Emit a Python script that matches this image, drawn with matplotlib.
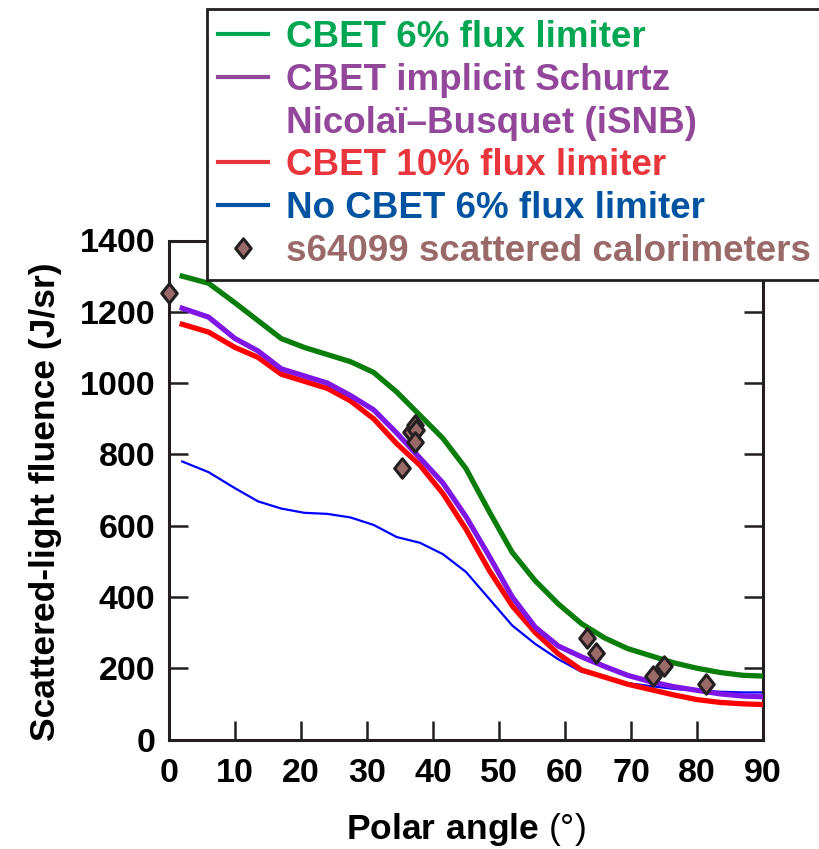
import numpy as np
import matplotlib
matplotlib.use("Agg")
import matplotlib.pyplot as plt
from matplotlib.lines import Line2D
from matplotlib.path import Path

plt.rcParams['font.family'] = ['Liberation Sans', 'DejaVu Sans']
plt.rcParams['mathtext.fontset'] = 'custom'
plt.rcParams['mathtext.bf'] = 'Liberation Sans:bold'
plt.rcParams['mathtext.rm'] = 'Liberation Sans'

# Model curves (polar angle in degrees)
polar = [2, 6, 10, 13.5, 17, 20.5, 24, 27.5, 31, 34.5, 38, 41.5, 45, 48.5,
         52, 55.5, 59, 62.5, 66, 69.5, 73, 76.5, 80, 83.5, 87, 90]
cbet_6 = [1300, 1280, 1225, 1175, 1125, 1100, 1080, 1060, 1030, 975, 910, 845,
          760, 640, 525, 445, 380, 325, 285, 255, 235, 215, 200, 188, 180, 178]
cbet_isnb = [1210, 1185, 1125, 1090, 1040, 1020, 1000, 965, 925, 860, 790, 720,
             625, 515, 400, 315, 262, 232, 205, 180, 162, 148, 138, 128, 122, 120]
cbet_10 = [1165, 1143, 1100, 1072, 1025, 1005, 985, 950, 900, 830, 770, 690,
           590, 475, 375, 300, 240, 195, 175, 155, 140, 125, 112, 104, 100, 98]
no_cbet_6 = [780, 750, 705, 668, 648, 636, 633, 623, 602, 568, 552, 520,
             470, 395, 320, 268, 225, 190, 175, 158, 150, 142, 137, 134, 132, 132]

# Measured calorimeter data (shot s64099)
meas_angle = [0, 35.3, 36.6, 37.3, 37.5, 37.3, 63.3, 64.7, 73.3, 75.0, 81.4]
meas_fluence = [1252, 762, 862, 882, 868, 835, 285, 243, 179, 207, 156]

legend_labels = ["CBET 6% flux limiter", "CBET implicit Schurtz",
                 "Nicolaï–Busquet (iSNB)", "CBET 10% flux limiter",
                 "No CBET 6% flux limiter", "s64099 scattered calorimeters"]

spine_col = '#231f20'
diamond = Path([(0, 1), (0.8, 0), (0, -1), (-0.8, 0), (0, 1)],
               [Path.MOVETO, Path.LINETO, Path.LINETO, Path.LINETO, Path.CLOSEPOLY])

fig = plt.figure(figsize=(8.2, 8.49), dpi=100)
ax = fig.add_axes([169 / 820, 1 - 739.5 / 849, 594 / 820, 499 / 849])

ax.plot(polar, no_cbet_6, color='#0000ff', lw=1.6, zorder=2)
ax.plot(polar, cbet_10, color='#ff0000', lw=3.8, zorder=3)
ax.plot(polar, cbet_isnb, color='#7f16e6', lw=3.8, zorder=4)
ax.plot(polar, cbet_6, color='#0a7d0a', lw=3.8, zorder=5)
ax.plot(meas_angle, meas_fluence, ls='none', marker=diamond, ms=14,
        mfc='#9a6a6a', mec=spine_col, mew=2.2, zorder=6, clip_on=False)

ax.set_xlim(0, 90)
ax.set_ylim(0, 1400)
ax.set_xticks(np.arange(0, 91, 10))
ax.set_yticks(np.arange(0, 1401, 200))
ax.tick_params(direction='in', length=13.5, width=1.8, color=spine_col,
               labelsize=24.5, right=True, top=True)
ax.tick_params(axis='x', pad=13)
ax.tick_params(axis='y', pad=10)
for lab in ax.get_xticklabels() + ax.get_yticklabels():
    lab.set_fontweight('bold')
for s in ax.spines.values():
    s.set_linewidth(2.2)
    s.set_color(spine_col)

ax.set_xlabel(r"$\bf{Polar\ angle}$ (°)", fontsize=25.5, labelpad=16)
ax.set_ylabel("Scattered-light fluence (J/sr)", fontsize=25.5,
              fontweight='bold')
ax.yaxis.set_label_coords(-0.18, 0.476)

# Legend (handles drawn with the legend colours of the original)
handles = [
    Line2D([], [], color='#00a651', lw=3),
    Line2D([], [], color='#92479b', lw=3),
    Line2D([], [], color='none', lw=0),
    Line2D([], [], color='#e8363c', lw=3),
    Line2D([], [], color='#0053a0', lw=3),
    Line2D([], [], ls='none', marker=diamond, ms=14, mfc='#9a6a6a',
           mec=spine_col, mew=2.2),
]
text_cols = ['#00a651', '#92479b', '#92479b', '#e8363c', '#0053a0', '#9a6a6a']
leg = fig.legend(handles, legend_labels, loc='upper left',
                 bbox_to_anchor=(207 / 820, 1 - 9 / 849), borderaxespad=0,
                 fancybox=False, framealpha=1, edgecolor=spine_col,
                 prop={'size': 26.5, 'weight': 'bold'}, handlelength=1.36,
                 handletextpad=0.5, labelspacing=0.21, borderpad=0.3)
leg.get_frame().set_linewidth(2)
for t, c in zip(leg.get_texts(), text_cols):
    t.set_color(c)

fig.savefig("out.png", dpi=100)
